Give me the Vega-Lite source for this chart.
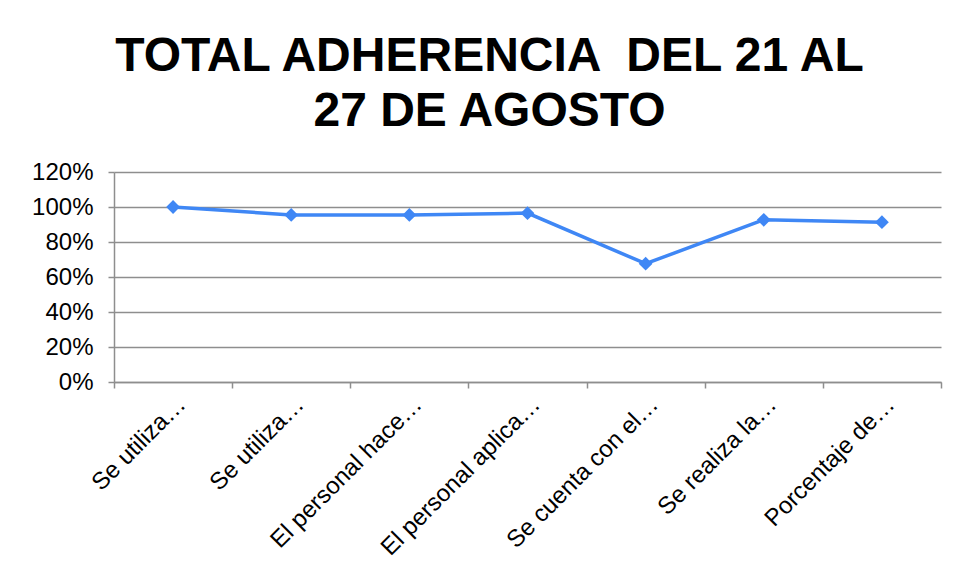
{
  "$schema": "https://vega.github.io/schema/vega-lite/v6.json",
  "width": 827,
  "height": 210,
  "autosize": {"type": "pad"},
  "padding": {"left": 31, "top": 33, "right": 15, "bottom": 5},
  "background": "white",
  "config": {"view": {"stroke": null}, "font": "Liberation Sans"},
  "title": {
    "text": ["TOTAL ADHERENCIA \u00a0DEL 21 AL", "27 DE AGOSTO"],
    "font": "Liberation Sans",
    "fontSize": 48,
    "fontWeight": "bold",
    "color": "#000000",
    "lineHeight": 55,
    "anchor": "middle",
    "offset": 24,
    "dx": -38
  },
  "data": {
    "values": [
      {"criterio": "Se utiliza…|1", "adherencia": 1.0},
      {"criterio": "Se utiliza…|2", "adherencia": 0.955},
      {"criterio": "El personal hace…|3", "adherencia": 0.955},
      {"criterio": "El personal aplica…|4", "adherencia": 0.965},
      {"criterio": "Se cuenta con el…|5", "adherencia": 0.676},
      {"criterio": "Se realiza la…|6", "adherencia": 0.927},
      {"criterio": "Porcentaje de…|7", "adherencia": 0.913}
    ]
  },
  "encoding": {
    "x": {
      "field": "criterio",
      "type": "nominal",
      "sort": null,
      "bandPosition": 0.5,
      "scale": {"type": "band", "paddingInner": 0, "paddingOuter": 0},
      "axis": {
        "title": null,
        "tickBand": "extent",
        "grid": false,
        "labelAngle": -45,
        "labelFontSize": 24,
        "labelColor": "#000000",
        "labelLimit": 400,
        "labelPadding": 4,
        "labelExpr": "datum.value ? split(datum.value, '|')[0] : ''",
        "domainColor": "#8E8E8E",
        "domainWidth": 1.5,
        "tickColor": "#8E8E8E",
        "tickWidth": 1.5,
        "tickSize": 6
      }
    },
    "y": {
      "field": "adherencia",
      "type": "quantitative",
      "scale": {"domain": [0, 1.2], "nice": false},
      "axis": {
        "title": null,
        "values": [0, 0.2, 0.4, 0.6, 0.8, 1.0, 1.2],
        "format": ".0%",
        "grid": true,
        "gridColor": "#8E8E8E",
        "gridWidth": 1.5,
        "labelFontSize": 24,
        "labelColor": "#000000",
        "labelPadding": 15,
        "domainColor": "#8E8E8E",
        "domainWidth": 1.5,
        "tickColor": "#8E8E8E",
        "tickWidth": 1.5,
        "tickSize": 6
      }
    }
  },
  "layer": [
    {"mark": {"type": "line", "color": "#3F87F5", "strokeWidth": 3.5}},
    {"mark": {"type": "point", "shape": "diamond", "filled": true, "size": 190, "color": "#3F87F5", "opacity": 1}}
  ]
}
